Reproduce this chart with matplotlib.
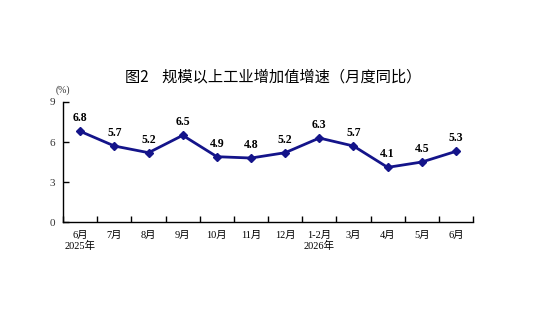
import matplotlib
matplotlib.use("Agg")
import matplotlib.pyplot as plt
import numpy as np

# data
months = ["6月", "7月", "8月", "9月", "10月", "11月", "12月", "1-2月", "3月", "4月", "5月", "6月"]
years = ["2025年", "", "", "", "", "", "", "2026年", "", "", "", ""]
growth = [6.8, 5.7, 5.2, 6.5, 4.9, 4.8, 5.2, 6.3, 5.7, 4.1, 4.5, 5.3]

SERIF = ["Liberation Serif", "Noto Sans CJK SC"]
NAVY = "#14148a"

fig = plt.figure(figsize=(5.4, 3.29), dpi=100, facecolor="white")
ax = fig.add_axes([0.117, 0.325, 0.759, 0.365])

x = np.arange(len(growth))
ax.plot(x, growth, color=NAVY, lw=2, marker="D", markersize=4.5, zorder=3)
for xi, v in zip(x, growth):
    ax.annotate(f"{v:.1f}", (xi, v), xytext=(0, 5), textcoords="offset points",
                ha="center", va="bottom", fontsize=8.5, fontweight="bold", family=SERIF)

ax.set_xlim(-0.5, len(growth) - 0.5)
ax.set_ylim(0, 9)
ax.set_yticks([0, 3, 6, 9])
ax.set_yticklabels(["0", "3", "6", "9"], family=SERIF, fontsize=8, color="#333333")

# ticks at category boundaries, labels centered in the band
ax.set_xticks(np.arange(len(growth) + 1) - 0.5)
ax.set_xticklabels([])
ax.set_xticks(x, minor=True)
ax.set_xticklabels([m + ("\n" + y if y else "") for m, y in zip(months, years)],
                   minor=True, family=SERIF, fontsize=7.5, linespacing=1.15)
ax.tick_params(axis="x", which="minor", length=0, pad=6)
ax.tick_params(axis="x", which="major", direction="in", length=4, width=1)
ax.tick_params(axis="y", direction="in", length=4, width=1, pad=6)

for s in ["top", "right"]:
    ax.spines[s].set_visible(False)
for s in ["left", "bottom"]:
    ax.spines[s].set_linewidth(1)

ax.text(0, 1.06, "(%)", transform=ax.transAxes, ha="center", va="bottom",
        fontsize=7, family=SERIF, color="#333333")

fig.text(0.505, 0.765, "图2    规模以上工业增加值增速（月度同比）", ha="center", va="center",
         fontsize=11, family=["Noto Sans CJK SC", "DejaVu Sans"])

fig.savefig("out.png", dpi=100, facecolor="white")
